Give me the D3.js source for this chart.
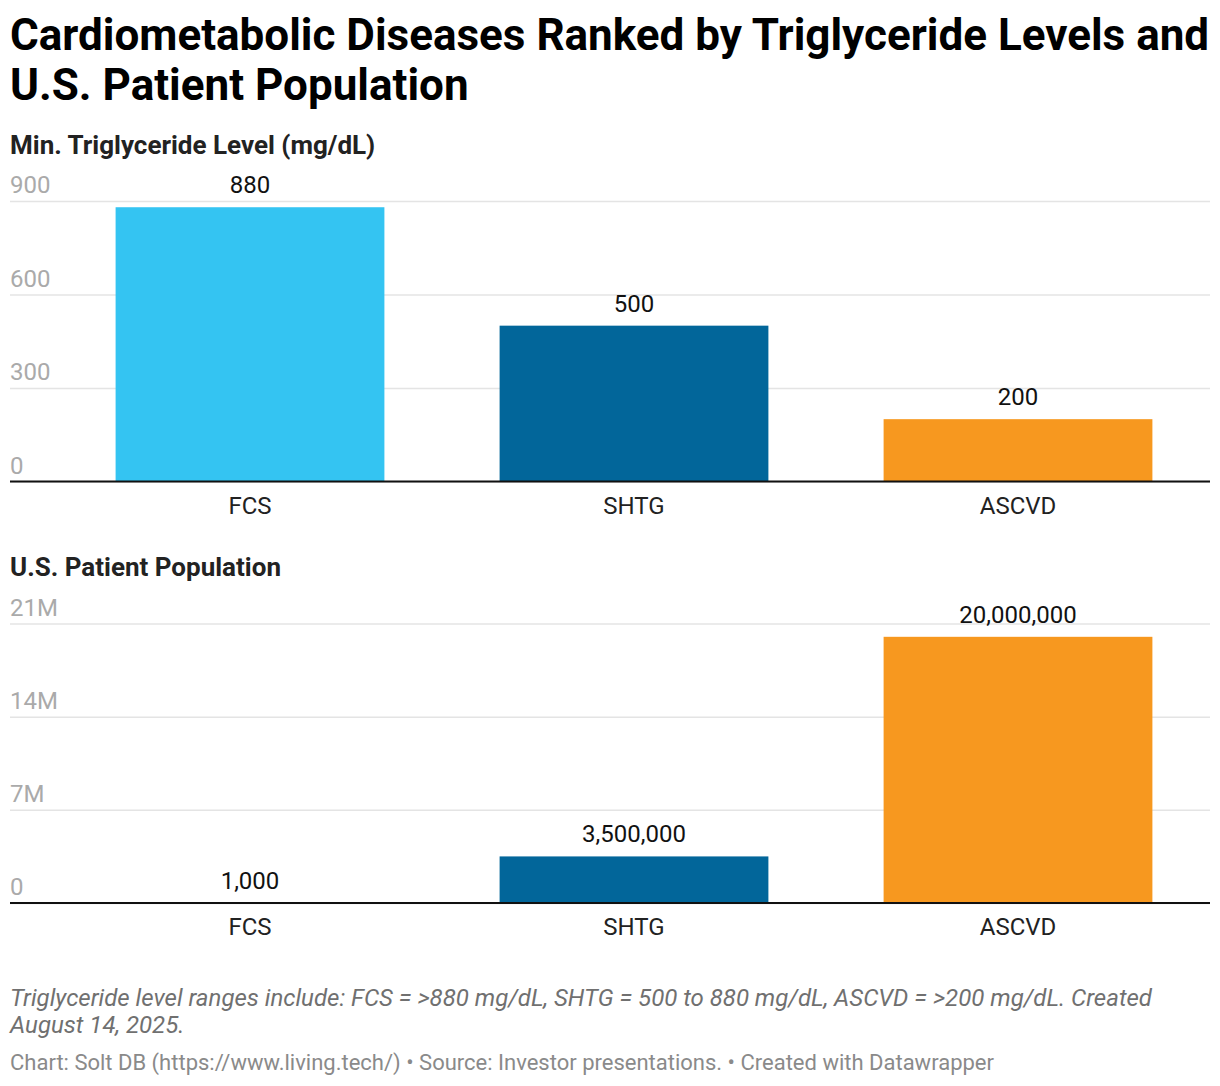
<!DOCTYPE html>
<html>
<head>
<meta charset="utf-8">
<script src="https://cdn.jsdelivr.net/npm/d3@7"></script>
<style>
  body { margin: 0; background: #fff; }
  svg { font-family: Roboto, sans-serif; display: block; }
</style>
</head>
<body>
<div id="chart"></div>
<script>
var categories = ['FCS', 'SHTG', 'ASCVD']
var trigLevels = [880, 500, 200]
var patients = [1000, 3500000, 20000000]
var trigTicks = [0, 300, 600, 900]
var patientTicks = [0, 7000000, 14000000, 21000000]
var barColors = ['#34c4f2', '#02669a', '#f7981f']

var W = 1220, H = 1086
var left = 10, right = 1210

var svg = d3.select('#chart').append('svg')
  .attr('width', W)
  .attr('height', H)

// title
var title = svg.append('text')
  .attr('x', left)
  .attr('font-size', 44)
  .attr('font-weight', 700)
  .attr('fill', '#000')
title.append('tspan').attr('x', left).attr('y', 50).text('Cardiometabolic Diseases Ranked by Triglyceride Levels and')
title.append('tspan').attr('x', left).attr('y', 100).text('U.S. Patient Population')

var xScale = d3.scaleBand()
  .domain(categories)
  .range([58, right])
  .paddingInner(0.3)
  .paddingOuter(0.15)

var colorScale = d3.scaleOrdinal().domain(categories).range(barColors)

function drawPanel(opts) {
  var g = svg.append('g')

  g.append('text')
    .attr('x', left)
    .attr('y', opts.titleY)
    .attr('font-size', 26)
    .attr('font-weight', 700)
    .attr('fill', '#222')
    .text(opts.title)

  var y = d3.scaleLinear()
    .domain([0, d3.max(opts.ticks)])
    .range([opts.base, opts.top])

  // grid + tick labels above the lines
  var yAxis = d3.axisRight(y)
    .tickValues(opts.ticks)
    .tickSize(right - left)
    .tickFormat(opts.tickFormat)

  var ga = g.append('g')
    .attr('transform', 'translate(' + left + ',0)')
    .call(yAxis)
  ga.select('.domain').remove()
  ga.selectAll('.tick line').attr('stroke', '#e4e4e4').attr('stroke-width', 1.5)
  ga.selectAll('.tick text')
    .attr('x', 0)
    .attr('dy', -8.5)
    .attr('text-anchor', 'start')
    .attr('font-size', 24)
    .attr('font-family', 'Roboto, sans-serif')
    .attr('fill', '#aaa')

  g.selectAll('.bar')
    .data(opts.values)
    .enter().append('rect')
    .attr('class', 'bar')
    .attr('x', (d, i) => xScale(categories[i]))
    .attr('y', d => y(d))
    .attr('width', xScale.bandwidth())
    .attr('height', d => y(0) - y(d))
    .attr('fill', (d, i) => colorScale(categories[i]))

  g.selectAll('.value')
    .data(opts.values)
    .enter().append('text')
    .attr('class', 'value')
    .attr('x', (d, i) => xScale(categories[i]) + xScale.bandwidth() / 2)
    .attr('y', d => y(d) - 14)
    .attr('text-anchor', 'middle')
    .attr('font-size', 24)
    .attr('fill', '#111')
    .text(d => d3.format(',')(d))

  // baseline
  g.append('line')
    .attr('x1', left).attr('x2', right)
    .attr('y1', y(0)).attr('y2', y(0))
    .attr('stroke', '#111')
    .attr('stroke-width', 2)

  var xAxis = d3.axisBottom(xScale).tickSize(0).tickPadding(0)
  var gx = g.append('g')
    .attr('transform', 'translate(0,' + y(0) + ')')
    .call(xAxis)
  gx.select('.domain').remove()
  gx.selectAll('.tick text')
    .attr('y', 32)
    .attr('dy', null)
    .attr('font-size', 24)
    .attr('font-family', 'Roboto, sans-serif')
    .attr('fill', '#222')
}

drawPanel({
  title: 'Min. Triglyceride Level (mg/dL)',
  titleY: 154,
  values: trigLevels,
  ticks: trigTicks,
  tickFormat: d3.format('d'),
  base: 481.5,
  top: 201
})

drawPanel({
  title: 'U.S. Patient Population',
  titleY: 576,
  values: patients,
  ticks: patientTicks,
  tickFormat: d => d === 0 ? '0' : (d / 1e6) + 'M',
  base: 903,
  top: 623.5
})

// notes
var note = svg.append('text')
  .attr('font-size', 24)
  .attr('font-style', 'italic')
  .attr('fill', '#707070')
note.append('tspan').attr('x', left).attr('y', 1006)
  .text('Triglyceride level ranges include: FCS = >880 mg/dL, SHTG = 500 to 880 mg/dL, ASCVD = >200 mg/dL. Created')
note.append('tspan').attr('x', left).attr('y', 1033)
  .text('August 14, 2025.')

svg.append('text')
  .attr('x', left)
  .attr('y', 1070)
  .attr('font-size', 22)
  .attr('fill', '#8a8a8a')
  .text('Chart: Solt DB (https://www.living.tech/) \u2022 Source: Investor presentations. \u2022 Created with Datawrapper')
</script>
</body>
</html>
